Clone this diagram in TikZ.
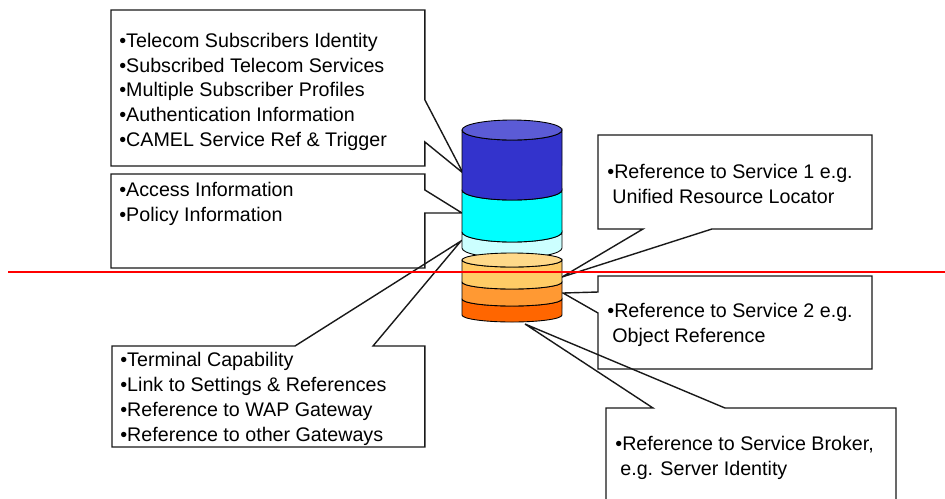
\documentclass[tikz,border=0pt]{standalone}
\usepackage{fontspec}
\setmainfont{Liberation Sans}
\usetikzlibrary{calc,positioning}
\definecolor{lightcyan}{HTML}{CCFFFF}
\definecolor{brightcyan}{HTML}{00FFFF}
\definecolor{dbblue}{HTML}{3333CC}
\definecolor{topblue}{HTML}{5B5BD6}
\definecolor{darkorange}{HTML}{FF6600}
\definecolor{midorange}{HTML}{FF9933}
\definecolor{lightorange}{HTML}{FFCC66}
\definecolor{toporange}{HTML}{FFD98A}
\tikzset{
  callout/.style={draw=black!90, line width=0.8pt, line join=miter},
  area/.style={inner sep=0pt, outer sep=0pt, anchor=north west},
  txt/.style={font=\fontsize{11.2}{14.17}\selectfont, align=left, inner sep=0pt, anchor=north west},
  layer/.style={draw=black, line width=0.5pt}
}
\begin{document}
\begin{tikzpicture}[x=0.02cm,y=-0.02cm]
\useasboundingbox (0,0) rectangle (945,498);
\clip (0,0) rectangle (945,498);
% Areas of the callout boxes
\node[area, minimum width=6.28cm, minimum height=3.12cm] (subsbox) at (111,10) {};
\node[area, minimum width=6.28cm, minimum height=1.88cm] (accbox) at (111,174) {};
\node[area, minimum width=6.26cm, minimum height=2.02cm] (termbox) at (112,346) {};
\node[area, minimum width=5.48cm, minimum height=1.88cm] (servabox) at (598,135) {};
\node[area, minimum width=5.48cm, minimum height=1.86cm] (servbbox) at (598,276) {};
\node[area, minimum width=5.80cm, minimum height=2.00cm] (brokbox) at (606,408) {};
% Where the pointers touch the database
\coordinate (substip) at (463,173);
\coordinate (acctip) at (462,213);
\coordinate (termtip) at (461,241);
\coordinate (servatip) at (562,277);
\coordinate (servbtip) at (563,293);
\coordinate (broktip) at (525,324);
% Callouts
\draw[callout] (subsbox.north west) -- (subsbox.north east) -- ($(subsbox.north east)+(0,90)$) -- (substip)
  -- ($(subsbox.north east)+(0,132)$) -- (subsbox.south east) -- (subsbox.south west) -- cycle;
\draw[callout] (accbox.north west) -- (accbox.north east) -- ($(accbox.north east)+(0,16)$) -- (acctip)
  -- ($(accbox.north east)+(0,39)$) -- (accbox.south east) -- (accbox.south west) -- cycle;
\draw[callout] (termbox.south west) -- (termbox.north west) -- ($(termbox.north west)+(183,0)$) -- (termtip)
  -- ($(termbox.north west)+(261,0)$) -- (termbox.north east) -- (termbox.south east) -- cycle;
\draw[callout] (servabox.north west) -- (servabox.north east) -- (servabox.south east) -- ($(servabox.south west)+(114,0)$)
  -- (servatip) -- ($(servabox.south west)+(45,0)$) -- (servabox.south west) -- cycle;
\draw[callout] (servbbox.north west) -- (servbbox.north east) -- (servbbox.south east) -- (servbbox.south west)
  -- ($(servbbox.north west)+(0,37)$) -- (servbtip) -- ($(servbbox.north west)+(0,16)$) -- cycle;
\draw[callout] (brokbox.south west) -- (brokbox.north west) -- ($(brokbox.north west)+(47,0)$) -- (broktip)
  -- ($(brokbox.north west)+(119,0)$) -- (brokbox.north east) -- (brokbox.south east) -- cycle;
% Texts
\node[txt] (substxt) at ($(subsbox.north west)+(8,22.5)$) {•Telecom Subscribers Identity\\•Subscribed Telecom Services\\•Multiple Subscriber Profiles\\•Authentication Information\\•CAMEL Service Ref \& Trigger};
\node[txt] (acctxt) at ($(accbox.north west)+(8,8)$) {•Access Information\\•Policy Information};
\node[txt] (termtxt) at ($(termbox.north west)+(8,6)$) {•Terminal Capability\\•Link to Settings \& References\\•Reference to WAP Gateway\\•Reference to other Gateways};
\node[txt] (servatxt) at ($(servabox.north west)+(9,28.5)$) {•Reference to Service 1 e.g.\\\hspace*{0.1cm}Unified Resource Locator};
\node[txt] (servbtxt) at ($(servbbox.north west)+(9,27)$) {•Reference to Service 2 e.g.\\\hspace*{0.1cm}Object Reference};
\node[txt] (broktxt) at ($(brokbox.north west)+(9,28)$) {•Reference to Service Broker,\\\hspace*{0.1cm}e.g. Server Identity};
% Upper part of the database
\foreach \yt/\yb/\col in {232/248/lightcyan, 190/232/brightcyan, 130/190/dbblue}
  \filldraw[layer, fill=\col] (462,\yt) -- (462,\yb) arc[start angle=180, end angle=360, x radius=1cm, y radius=0.2cm]
    -- (562,\yt) arc[start angle=360, end angle=180, x radius=1cm, y radius=0.2cm] -- cycle;
\filldraw[layer, fill=topblue] (512,130) ellipse [x radius=1cm, y radius=0.2cm];
% Lower part of the database
\foreach \yt/\yb/\col in {299/315/darkorange, 282/299/midorange, 260/282/lightorange}
  \filldraw[layer, fill=\col] (462,\yt) -- (462,\yb) arc[start angle=180, end angle=360, x radius=1cm, y radius=0.14cm]
    -- (562,\yt) arc[start angle=360, end angle=180, x radius=1cm, y radius=0.14cm] -- cycle;
\filldraw[layer, fill=toporange] (512,260) ellipse [x radius=1cm, y radius=0.14cm];
% Red line across
\draw[red, line width=1.1pt] (8,272) -- (945,272);
\end{tikzpicture}
\end{document}
